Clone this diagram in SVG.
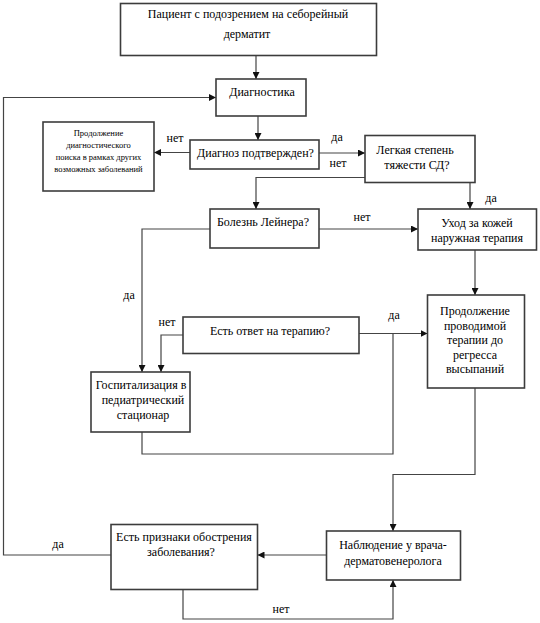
<svg xmlns="http://www.w3.org/2000/svg" width="540" height="623" viewBox="0 0 540 623">
<style>
.box{fill:#fff;stroke:#3c3c3c;stroke-width:1.6}
text{font-family:'Liberation Serif','Times New Roman','DejaVu Serif',serif;fill:#000;text-anchor:middle}
.t{font-size:12px}
.s{font-size:8.5px}
.c{fill:none;stroke:#444;stroke-width:1.2}
</style>
<defs>
<marker id="ah" viewBox="0 0 10 10" refX="10" refY="5" markerWidth="7" markerHeight="7" markerUnits="userSpaceOnUse" orient="auto">
<path d="M0,0 L10,5 L0,10 z" fill="#111"/>
</marker>
</defs>
<rect width="540" height="623" fill="#fff"/>
<g id="connectors">
<path class="c" d="M256,55.5 V79" marker-end="url(#ah)"/>
<path class="c" d="M258,116 V140" marker-end="url(#ah)"/>
<path class="c" d="M190,152.5 H154" marker-end="url(#ah)"/>
<path class="c" d="M319,153 H365" marker-end="url(#ah)"/>
<path class="c" d="M365,177.5 H256 V209" marker-end="url(#ah)"/>
<path class="c" d="M470,182.5 V209" marker-end="url(#ah)"/>
<path class="c" d="M319,229 H418" marker-end="url(#ah)"/>
<path class="c" d="M210,229 H142 V372" marker-end="url(#ah)"/>
<path class="c" d="M475,250 V295" marker-end="url(#ah)"/>
<path class="c" d="M183,335 H161 V372" marker-end="url(#ah)"/>
<path class="c" d="M359,333.5 H427.5" marker-end="url(#ah)"/>
<path class="c" d="M142,432 V454 H393 V333.5"/>
<path class="c" d="M475,388 V474.5 H393 V531" marker-end="url(#ah)"/>
<path class="c" d="M326.5,555 H257.5" marker-end="url(#ah)"/>
<path class="c" d="M111,555 H3.5 V97.5 H216" marker-end="url(#ah)"/>
<path class="c" d="M183,589.5 V619 H393 V580" marker-end="url(#ah)"/>
<text class="t" x="175" y="142">нет</text>
<text class="t" x="337" y="141">да</text>
<text class="t" x="338" y="167">нет</text>
<text class="t" x="491" y="202">да</text>
<text class="t" x="362" y="221">нет</text>
<text class="t" x="129" y="299">да</text>
<text class="t" x="167" y="326">нет</text>
<text class="t" x="394" y="319">да</text>
<text class="t" x="58" y="548">да</text>
<text class="t" x="281" y="613">нет</text>
</g>
<g id="n-start">
<rect class="box" x="120.5" y="3.5" width="256" height="52"/>
<text class="t" x="248" y="17.5">Пациент с подозрением на себорейный</text>
<text class="t" x="247" y="37.5">дерматит</text>
</g>
<g id="n-diag">
<rect class="box" x="216" y="79" width="90" height="37"/>
<text class="t" x="262" y="96">Диагностика</text>
</g>
<g id="n-other">
<rect class="box" x="43" y="122" width="111" height="69"/>
<text class="s" x="98.5" y="136">Продолжение</text>
<text class="s" x="98.5" y="148">диагностического</text>
<text class="s" x="98.5" y="160">поиска в рамках других</text>
<text class="s" x="98.5" y="172">возможных заболеваний</text>
</g>
<g id="n-confirmed">
<rect class="box" x="190" y="140" width="129" height="29"/>
<text class="t" x="255.5" y="157">Диагноз подтвержден?</text>
</g>
<g id="n-mild">
<rect class="box" x="365" y="135.5" width="110" height="47"/>
<text class="t" x="415" y="153.5">Легкая степень</text>
<text class="t" x="417" y="169">тяжести СД?</text>
</g>
<g id="n-leiner">
<rect class="box" x="210" y="209" width="109" height="39"/>
<text class="t" x="263" y="226">Болезнь Лейнера?</text>
</g>
<g id="n-care">
<rect class="box" x="418" y="209" width="118.5" height="41"/>
<text class="t" x="477" y="227">Уход за кожей</text>
<text class="t" x="477" y="242">наружная терапия</text>
</g>
<g id="n-response">
<rect class="box" x="183" y="317" width="176" height="36.5"/>
<text class="t" x="270" y="335">Есть ответ на терапию?</text>
</g>
<g id="n-hosp">
<rect class="box" x="91" y="372" width="99" height="60"/>
<text class="t" x="141" y="389">Госпитализация в</text>
<text class="t" x="143" y="404">педиатрический</text>
<text class="t" x="143" y="419">стационар</text>
</g>
<g id="n-continue">
<rect class="box" x="427.5" y="295" width="97" height="93"/>
<text class="t" x="475" y="315">Продолжение</text>
<text class="t" x="475" y="329.5">проводимой</text>
<text class="t" x="475" y="344">терапии до</text>
<text class="t" x="475" y="358.5">регресса</text>
<text class="t" x="475" y="373">высыпаний</text>
</g>
<g id="n-observe">
<rect class="box" x="326.5" y="531" width="134" height="49"/>
<text class="t" x="393" y="548.5">Наблюдение у врача-</text>
<text class="t" x="393" y="564.5">дерматовенеролога</text>
</g>
<g id="n-relapse">
<rect class="box" x="111" y="524.5" width="146.5" height="65"/>
<text class="t" x="184" y="540.5">Есть признаки обострения</text>
<text class="t" x="181" y="555.5">заболевания?</text>
</g>
</svg>
